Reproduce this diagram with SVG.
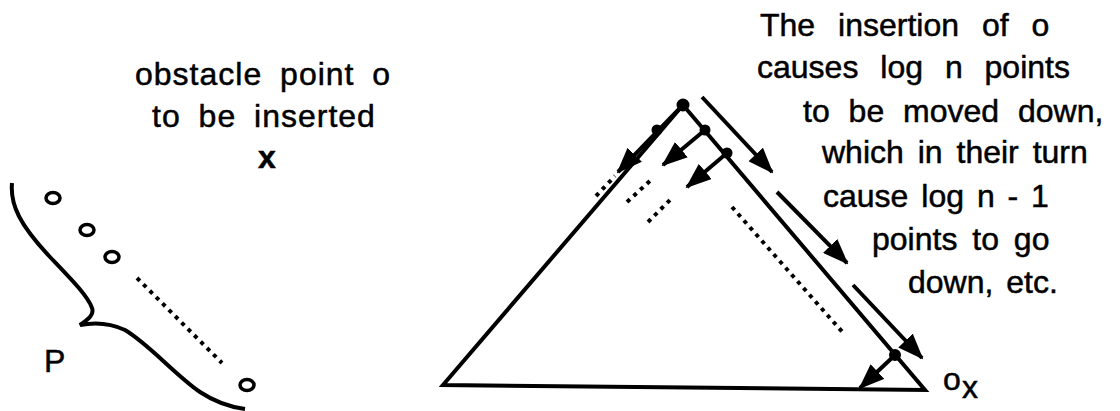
<svg xmlns="http://www.w3.org/2000/svg" width="1120" height="411" viewBox="0 0 1120 411">
<style>
text{font-family:"Liberation Sans",Arial,sans-serif;font-size:32px;fill:#000;stroke:#000;stroke-width:0.5}
.ln{stroke:#000;stroke-width:4;fill:none;stroke-linecap:butt}
.ar{stroke:#000;stroke-width:4;fill:none;marker-end:url(#ah)}
.dot{stroke:#000;stroke-width:4;fill:none;stroke-dasharray:4 5}
.pt{fill:none;stroke:#000;stroke-width:3.5}
</style>
<defs>
<marker id="ah" viewBox="0 0 26 20" refX="24" refY="10" markerWidth="26" markerHeight="20" markerUnits="userSpaceOnUse" orient="auto">
<path d="M0,0 L26,10 L0,20 Z" fill="#000"/>
</marker>
</defs>
<g id="set-P">
<path class="ln" stroke-width="3.5" d="M12,183 C10,205 20,225 50,257 C70,278 88,296 92,308 C95,316 85,321 80,325 C95,322 110,323 125,330 C150,345 175,375 200,392 C215,402 230,407 245,409"/>
<ellipse class="pt" cx="53" cy="198" rx="7" ry="5.5"/>
<ellipse class="pt" cx="87" cy="230" rx="7" ry="5.5"/>
<ellipse class="pt" cx="112" cy="257" rx="7" ry="5.5"/>
<ellipse class="pt" cx="247" cy="385" rx="7" ry="5.5"/>
<line class="dot" x1="137" y1="278" x2="222" y2="363" stroke-dasharray="4 6.5"/>
<text x="44" y="372">P</text>
</g>
<g id="label-obstacle">
<text x="135" y="85" word-spacing="8" letter-spacing="1">obstacle point o</text>
<text x="152" y="127" word-spacing="8" letter-spacing="1">to be inserted</text>
<text x="258" y="168" font-weight="bold">x</text>
</g>
<g id="tree">
<path class="ln" d="M683,105 L443,385 L925,390 Z" stroke-linejoin="miter"/>
<line class="dot" x1="627" y1="202" x2="652" y2="179"/>
<line class="dot" x1="648" y1="222" x2="672" y2="198"/>
<line class="dot" x1="732" y1="207" x2="845" y2="335"/>
<line class="dot" stroke-width="3" x1="596" y1="196" x2="615" y2="176"/>
<circle cx="683" cy="105" r="6.5"/>
<circle cx="657" cy="130" r="5.5"/>
<circle cx="705" cy="130" r="5.5"/>
<circle cx="727" cy="153" r="5.5"/>
<circle cx="895" cy="355" r="6"/>
</g>
<g id="connectors">
<line class="ar" x1="683" y1="105" x2="618" y2="172"/>
<line class="ar" x1="705" y1="130" x2="663" y2="165"/>
<line class="ar" x1="727" y1="153" x2="687" y2="187"/>
<line class="ar" x1="895" y1="355" x2="860" y2="388"/>
<line class="ar" x1="702" y1="97" x2="772" y2="172"/>
<line class="ar" x1="777" y1="192" x2="847" y2="263"/>
<line class="ar" x1="853" y1="285" x2="922" y2="358"/>
</g>
<g id="label-ox">
<text x="943" y="390">o</text>
<text x="962" y="398" font-size="23">x</text>
</g>
<g id="label-insertion">
<text x="760" y="36" word-spacing="14">The insertion of o</text>
<text x="757" y="78" word-spacing="13">causes log n points</text>
<text x="803" y="122" word-spacing="10">to be moved down,</text>
<text x="822" y="163" word-spacing="5">which in their turn</text>
<text x="823" y="207" word-spacing="4">cause log n - 1</text>
<text x="872" y="250" word-spacing="6">points to go</text>
<text x="908" y="293" word-spacing="4">down, etc.</text>
</g>
</svg>
